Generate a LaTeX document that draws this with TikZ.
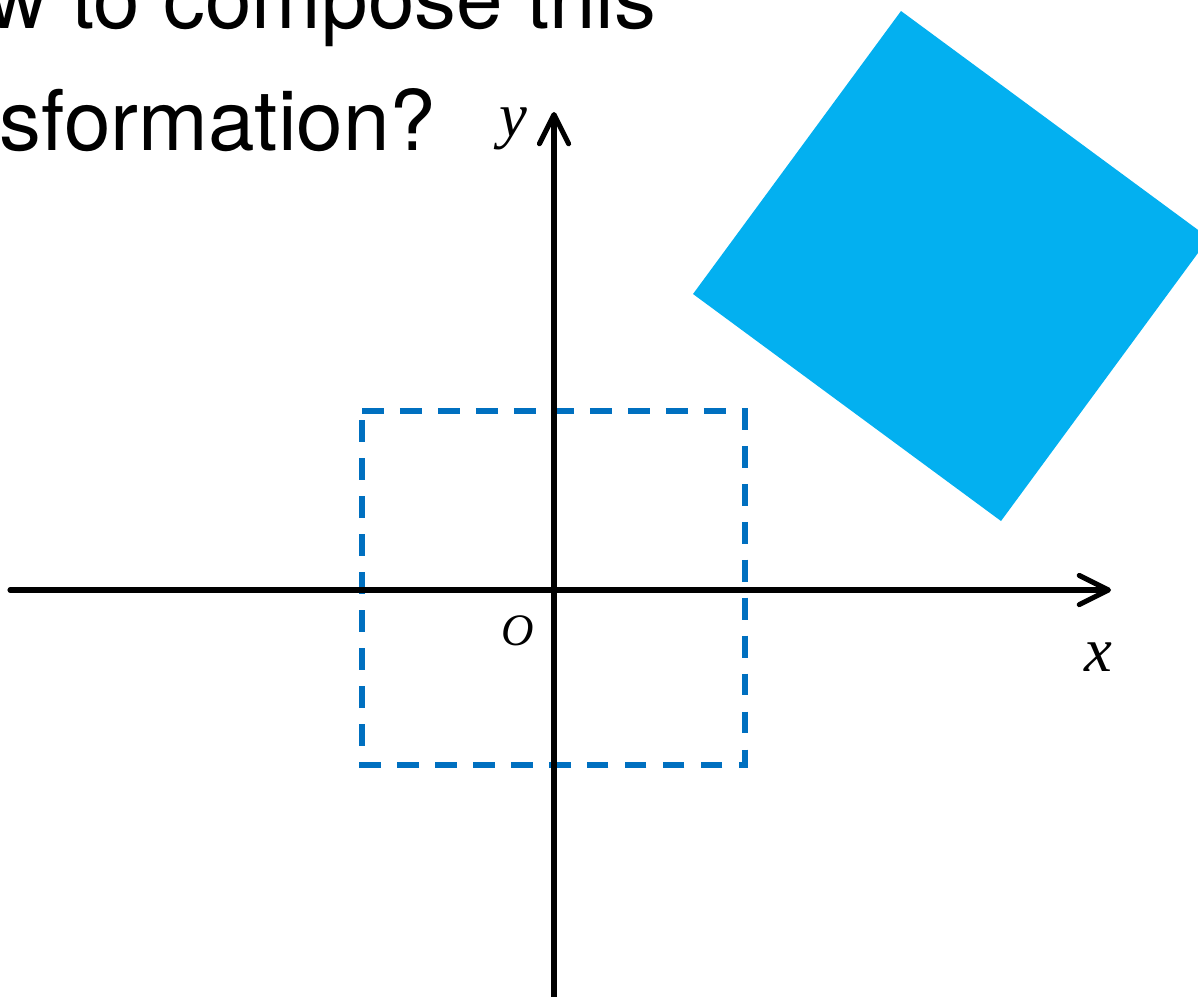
\documentclass[tikz,border=0pt]{standalone}
\usepackage{fontspec}
\newfontfamily\heros{TeX Gyre Heros}
\newfontfamily\tms{Liberation Serif}
\usetikzlibrary{arrows.meta}
\definecolor{dashblue}{RGB}{0,112,192}
\definecolor{fillblue}{RGB}{3,176,240}
\begin{document}
\begin{tikzpicture}[x=0.01cm,y=-0.01cm,
  axisline/.style={line width=1.45pt, line cap=round,
    -{Straight Barb[length=8.3pt,width=8.3pt,round]}},
  title/.style={anchor=base east, inner sep=0pt, font=\heros\fontsize{23.8pt}{28pt}\selectfont},
  axlabel/.style={anchor=base, inner sep=0pt, font=\tms\itshape\fontsize{17.8pt}{20pt}\selectfont},
  origin/.style={anchor=base, inner sep=0pt, font=\tms\itshape\fontsize{12.8pt}{14pt}\selectfont},
  dashbox/.style={draw=dashblue, line width=1.45pt, dash pattern=on 6.2pt off 4.6pt, line cap=butt},
  quadfill/.style={fill=fillblue}]
\useasboundingbox (0,0) rectangle (1198,996);
\clip (0,0) rectangle (1198,996);
% title text
\node[title] (t1) at (657,28) {w to compose this};
\node[title] (t2) at (437,150) {sformation?};
% rotated rectangle
\fill[quadfill] (693,294) -- (901,11) -- (1209,238) -- (1001,521) -- cycle;
% dashed rectangle
\draw[dashbox] (362,411) -- (745,411) -- (745,765) -- (362,765) -- cycle;
% axes
\coordinate (xs) at (10,590);
\coordinate (xe) at (1111,590);
\coordinate (ys) at (554,1000);
\coordinate (ye) at (554,112);
\draw[axisline] (xs) -- (xe);
\draw[axisline] (ys) -- (ye);
% labels
\node[axlabel] (lx) at (1098,671) {x};
\node[axlabel] (ly) at (513,136) {y};
\node[origin] (lo) at (518,645) {O};
\end{tikzpicture}
\end{document}
